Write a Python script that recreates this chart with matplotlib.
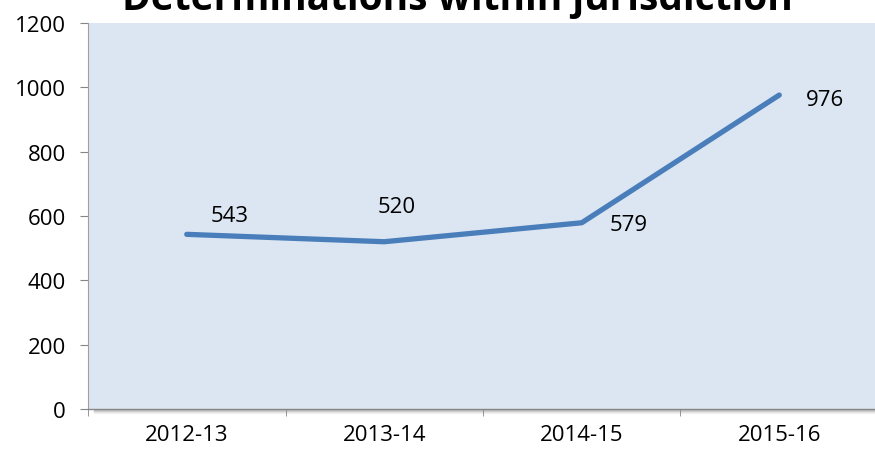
import matplotlib.pyplot as plt
import matplotlib.transforms as mtransforms
import numpy as np

# data
years = ["2012-13", "2013-14", "2014-15", "2015-16"]
counts = [543, 520, 579, 976]
label_offsets = [(43, 19), (12, 35), (47, -2), (46, -4)]  # pixels (dx, dy up)

plt.rcParams['font.family'] = ['Open Sans', 'DejaVu Sans']

fig = plt.figure(figsize=(8.75, 4.52), dpi=100)
ax = fig.add_axes([88 / 875, 42 / 452, 790 / 875, 386 / 452])
ax.set_facecolor("#DCE6F2")

x = np.arange(len(years)) + 0.5
ax.plot(x, counts, color="#4A7EBB", lw=3.8, solid_capstyle="round", solid_joinstyle="round", zorder=3)

for xi, yi, (dx, dy) in zip(x, counts, label_offsets):
    ax.annotate(str(yi), (xi, yi), xytext=(dx * 0.72, dy * 0.72), textcoords="offset points",
                ha="center", va="center", fontsize=16, color="black")

ax.set_xlim(0, 4)
ax.set_ylim(0, 1200)
ax.set_yticks(range(0, 1201, 200))
ax.set_xticks(x)
ax.set_xticklabels(years)
ax.set_xticks(np.arange(0, 5), minor=True)
ax.tick_params(axis="x", which="major", length=0, pad=11, labelsize=16)
ax.tick_params(axis="x", which="minor", length=5, color="#868686", direction="out")
ax.tick_params(axis="y", length=6, color="#868686", pad=10, labelsize=16)

for s in ["top", "right"]:
    ax.spines[s].set_visible(False)
ax.spines["left"].set_color("#A0A0A0")
ax.spines["bottom"].set_color("#868686")
ax.spines["bottom"].set_linewidth(1.0)

# soft shadow under the x axis
for i, a in enumerate([0.22, 0.14, 0.08, 0.04]):
    shift = mtransforms.ScaledTranslation(0.02, -(i + 1) / 100, fig.dpi_scale_trans)
    ax.plot([0.02, 4], [0, 0], transform=ax.get_xaxis_transform() + shift, color="black",
            alpha=a, lw=1, clip_on=False, zorder=1)

fig.text(457 / 875, 1 - 10 / 452, "Determinations within jurisdiction", ha="center", va="baseline",
         fontsize=28, fontweight="bold")

fig.savefig("out.png", dpi=100)
